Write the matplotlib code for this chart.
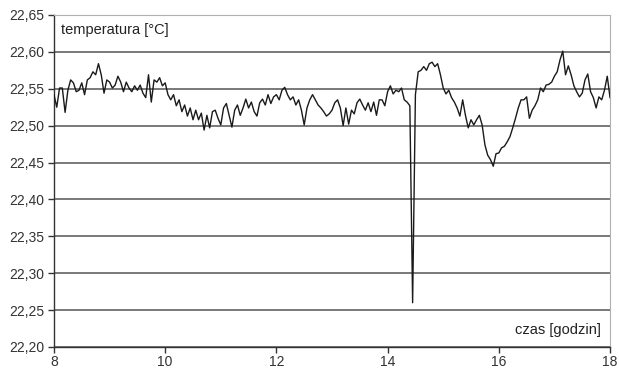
import numpy as np
import matplotlib
matplotlib.use('Agg')
import matplotlib.pyplot as plt
from matplotlib.ticker import FuncFormatter

# readings every 3 minutes, 8:00 - 18:00
t_start = 8.0
t_step = 0.05
temp_8 = [22.542, 22.525, 22.551, 22.551, 22.518, 22.548, 22.562, 22.558, 22.546, 22.548,
          22.558, 22.542, 22.562, 22.565, 22.573, 22.569, 22.584, 22.569, 22.544, 22.562]
temp_9 = [22.559, 22.551, 22.555, 22.567, 22.559, 22.546, 22.559, 22.551, 22.546, 22.554,
          22.548, 22.555, 22.544, 22.538, 22.569, 22.532, 22.562, 22.559, 22.565, 22.554]
temp_10 = [22.558, 22.542, 22.535, 22.542, 22.527, 22.535, 22.519, 22.528, 22.513, 22.524,
           22.508, 22.521, 22.508, 22.517, 22.494, 22.514, 22.497, 22.519, 22.521, 22.510]
temp_11 = [22.501, 22.524, 22.530, 22.514, 22.498, 22.521, 22.528, 22.514, 22.524, 22.536,
           22.524, 22.532, 22.519, 22.513, 22.531, 22.536, 22.528, 22.542, 22.530, 22.539]
temp_12 = [22.542, 22.535, 22.548, 22.552, 22.542, 22.535, 22.539, 22.528, 22.535, 22.521,
           22.501, 22.524, 22.535, 22.542, 22.535, 22.528, 22.524, 22.519, 22.513, 22.516]
temp_13 = [22.521, 22.531, 22.535, 22.524, 22.500, 22.524, 22.502, 22.521, 22.516, 22.531,
           22.536, 22.528, 22.521, 22.531, 22.519, 22.532, 22.514, 22.535, 22.535, 22.527]
temp_14 = [22.546, 22.554, 22.543, 22.548, 22.546, 22.551, 22.535, 22.532, 22.527, 22.260,
           22.542, 22.573, 22.575, 22.580, 22.575, 22.584, 22.586, 22.580, 22.584, 22.569]
temp_15 = [22.551, 22.543, 22.548, 22.538, 22.532, 22.524, 22.513, 22.535, 22.514, 22.497,
           22.508, 22.501, 22.508, 22.514, 22.501, 22.474, 22.460, 22.454, 22.445, 22.462]
temp_16 = [22.463, 22.470, 22.472, 22.478, 22.485, 22.497, 22.510, 22.524, 22.535, 22.535,
           22.539, 22.510, 22.521, 22.527, 22.535, 22.551, 22.546, 22.555, 22.556, 22.559]
temp_17 = [22.567, 22.573, 22.589, 22.601, 22.569, 22.581, 22.569, 22.554, 22.546, 22.539,
           22.544, 22.562, 22.570, 22.546, 22.538, 22.524, 22.539, 22.535, 22.548, 22.567,
           22.538]

temp = np.array(temp_8 + temp_9 + temp_10 + temp_11 + temp_12 +
                temp_13 + temp_14 + temp_15 + temp_16 + temp_17)
hours = t_start + t_step * np.arange(len(temp))

y_ticks = np.arange(22.20, 22.651, 0.05)
x_ticks = [8, 10, 12, 14, 16, 18]

plt.rcParams['font.family'] = ['Liberation Sans', 'DejaVu Sans']

fig = plt.figure(figsize=(6.19, 3.71), dpi=100)
ax = fig.add_axes([0.0872, 0.0647, 0.8983, 0.8949])

for y in y_ticks:
    ax.axhline(y, color='#555555', lw=1.1, zorder=1)
ax.plot(hours, temp, color='#1a1a1a', lw=1.0, zorder=3)

ax.set_xlim(8, 18)
ax.set_ylim(22.20, 22.65)
ax.set_xticks(x_ticks)
ax.set_yticks(y_ticks)
ax.yaxis.set_major_formatter(FuncFormatter(lambda v, p: f'{v:.2f}'.replace('.', ',')))
ax.tick_params(axis='both', labelsize=10, colors='#333333', length=4, width=1,
               direction='out')
ax.tick_params(axis='x', pad=2)
ax.tick_params(axis='y', pad=3)

for side in ['top', 'right']:
    ax.spines[side].set_color('#b0b0b0')
    ax.spines[side].set_linewidth(0.8)
for side in ['left', 'bottom']:
    ax.spines[side].set_color('#333333')
    ax.spines[side].set_linewidth(1.0)

ax.text(0.012, 0.955, 'temperatura [°C]', transform=ax.transAxes, fontsize=10.5,
        color='#222222', ha='left', va='center')
ax.text(0.983, 0.052, 'czas [godzin]', transform=ax.transAxes, fontsize=10.5,
        color='#222222', ha='right', va='center')

fig.savefig('out.png', dpi=100)
